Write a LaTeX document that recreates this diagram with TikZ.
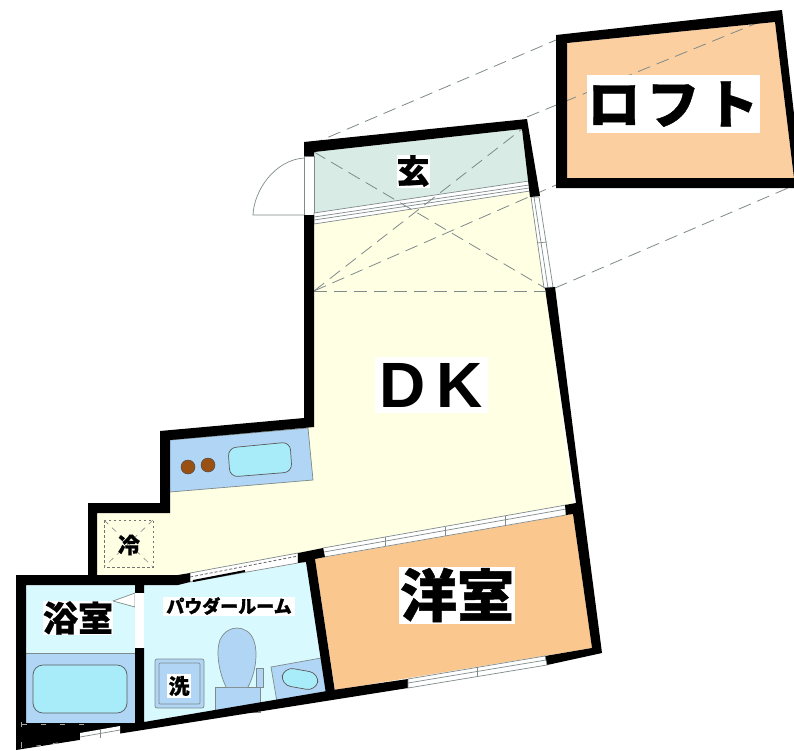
\documentclass[tikz,border=0pt]{standalone}
\usepackage{fontspec}
\setmainfont{Liberation Sans}
\newfontfamily\cjk{Noto Sans CJK JP}[BoldFeatures={FakeBold=0.8}]
\definecolor{wallc}{HTML}{000000}
\definecolor{genkanc}{HTML}{D8EBE4}
\definecolor{dkc}{HTML}{FFFFE4}
\definecolor{woodc}{HTML}{FAC78F}
\definecolor{loftc}{HTML}{FBCF9F}
\definecolor{wetc}{HTML}{D8FAFF}
\definecolor{fixc}{HTML}{B0D5F5}
\definecolor{tubc}{HTML}{A8ECFA}
\definecolor{linec}{HTML}{7F8A8A}
\definecolor{burnc}{HTML}{9A5012}
\tikzset{
  wall/.style={fill=wallc,draw=none},
  room/.style={draw=none},
  fixture/.style={fill=fixc,draw=linec,line width=0.7pt},
  basin/.style={fill=tubc,draw=black!65,line width=0.7pt,rounded corners=8pt},
  fineline/.style={draw=linec,line width=0.7pt},
  band/.style={fill=white,draw=linec,line width=0.7pt},
  hidden/.style={draw=linec,line width=0.8pt,dash pattern=on 13pt off 7pt},
  label/.style={fill=white,inner sep=0pt,text=black,font=\cjk\bfseries,align=center}
}
\begin{document}
\begin{tikzpicture}[x=1pt,y=-1pt]
\useasboundingbox (0,0) rectangle (794,750);
\fill[white] (0,0) rectangle (794,750);
% room fills
\fill[room,fill=dkc] (314,215) -- (530,185) -- (545,288) -- (575,514) -- (323,557) -- (190,582) -- (178,580) -- (97,580) -- (97,513) -- (170,513) -- (170,440) -- (313,427) -- cycle;
\fill[room,fill=genkanc] (314,152) -- (522,129) -- (529,181) -- (314,213) -- cycle;
\fill[room,fill=woodc] (315,559) -- (573,514) -- (592,648) -- (335,690) -- cycle;
\fill[room,fill=wetc] (144,585) -- (178,585) -- (190,582) -- (307,562) -- (326,692) -- (144,722) -- cycle;
\fill[room,fill=wetc] (26,585) rectangle (135,653);
\fill[room,fill=fixc] (26,653) rectangle (135,723);
\draw[fineline] (26,653) -- (135,653);
\fill[room,fill=loftc] (567,43) -- (775,22) -- (794,178) -- (567,178) -- cycle;
% kitchen
\draw[fixture,fill=fixc] (170,440) -- (308,428) -- (313,480) -- (170,492);
\fill[fill=burnc,draw=black!70,line width=0.5pt] (188,467) circle (7);
\fill[fill=burnc,draw=black!70,line width=0.5pt] (208,465) circle (7);
\draw[basin] (228,448) -- (290,442) -- (292,472) -- (230,477) -- cycle;
% fridge
\draw[draw=black!55,line width=0.9pt,dash pattern=on 2.5pt off 2.5pt] (104,520) rectangle (153,567);
\draw[draw=black!45,line width=0.6pt,dash pattern=on 6pt off 5pt] (104,520) -- (153,567) (153,520) -- (104,567);
% bath tub
\draw[basin,rounded corners=10pt] (33,665) rectangle (127,713);
% washer
\draw[fixture,rounded corners=2pt] (155,659) rectangle (204,708);
\draw[fixture,rounded corners=1pt] (159,663) rectangle (200,704);
% toilet
\draw[fixture] (215,687) rectangle (260,712);
\draw[fixture] (256,668) rectangle (263,687);
\draw[fixture] (226,687) .. controls (218,670) and (216,650) .. (220,640) .. controls (224,631) and (231,628) .. (237,628) .. controls (244,628) and (251,632) .. (254,641) .. controls (258,652) and (256,672) .. (248,687);
% vanity
\draw[fixture] (271,667) -- (321,658) -- (333,692) -- (277,702) -- cycle;
\draw[basin,fill=tubc,rotate around={-10:(300,679)},rounded corners=10pt] (282,670) rectangle (318,688);
% doorway, entrance door
\draw[band] (304,156) rectangle (314,215);
\draw[fineline] (304,215) -- (253,215) .. controls (254,190) and (275,160) .. (304,158);
% partition genkan / DK
\draw[band] (314,213) -- (529,181) -- (530,191) -- (314,224) -- cycle;
\draw[fineline] (314,217) -- (529,185);
\draw[fineline] (314,220) -- (529,188);
% window right of DK
\draw[band] (531,197) -- (539,197) -- (553,287) -- (544,288) -- cycle;
\draw[fineline] (534,197) -- (548,288);
\draw[fineline] (537,243) -- (547,242);
% sliding doors DK / wood room
\draw[band] (323,548) -- (566,505) -- (566,515) -- (324,557) -- cycle;
\draw[fineline] (324,552) -- (566,509);
\draw[fineline] (385,537) -- (385,546);
\draw[fineline] (445,527) -- (445,536);
\draw[fineline] (505,516) -- (505,525);
% door DK / powder
\draw[band] (190,573) -- (298,553) -- (298,563) -- (190,582) -- cycle;
\draw[draw=black!60,line width=0.8pt,dash pattern=on 3pt off 2pt] (190,577) -- (298,556);
\draw[wallc,line width=2pt] (193,581) -- (245,571);
% hidden lines
\draw[hidden] (314,291) -- (545,291);
\draw[hidden] (314,291) -- (522,129);
\draw[hidden] (314,152) -- (545,288);
\draw[hidden] (314,291) -- (556,185);
\draw[hidden] (310,145) -- (556,40);
\draw[hidden] (527,117) -- (757,23);
\draw[hidden] (555,288) -- (788,188);
% walls
\fill[wall] (304,142) -- (527,119) -- (540,196) -- (530,197) -- (522,129) -- (314,152) -- (314,156) -- (304,156) -- cycle;
\fill[wall] (304,215) -- (314,215) -- (314,427) -- (170,440) -- (170,513) -- (97,513) -- (97,575) -- (178,575) -- (190,573) -- (190,582) -- (178,585) -- (144,585) -- (144,593) -- (135,593) -- (135,585) -- (26,585) -- (26,723) -- (135,723) -- (135,648) -- (144,648) -- (144,722) -- (333,690) -- (408,679) -- (408,688) -- (16,750) -- (16,575) -- (88,575) -- (88,503) -- (160,503) -- (160,431) -- (304,418) -- cycle;
\fill[wall] (298,553) -- (323,548) -- (325,557) -- (315,559) -- (335,692) -- (326,694) -- (306,562) -- (298,563) -- cycle;
\fill[wall] (545,288) -- (555,287) -- (582,500) -- (602,653) -- (547,665) -- (545,656) -- (592,648) -- (573,514) -- (566,515) -- (565,505) -- (576,503) -- cycle;
\fill[wall,even odd rule] (556,35) -- (782,10) -- (794,114) -- (794,188) -- (556,188) -- cycle (567,43) -- (775,22) -- (794,178) -- (567,178) -- cycle;
% lower windows
\draw[band] (408,679) -- (545,656) -- (547,665) -- (408,688) -- cycle;
\draw[fineline] (408,683) -- (546,660);
\draw[fineline] (477,667) -- (477,676);
\fill[white] (80,733) -- (120,726) -- (120,735) -- (80,742) -- cycle;
\draw[fineline] (80,737) -- (120,730);
\draw[fineline] (100,729) -- (100,738);
% faint marks in the bath wall
\draw[draw=black!35,line width=0.8pt,dash pattern=on 5pt off 14pt] (22,724) -- (88,724);
\draw[draw=black!35,line width=0.8pt,dash pattern=on 5pt off 12pt] (36,746) -- (64,742);
\draw[draw=black!35,line width=0.8pt] (21,742) -- (21,748);
\draw[draw=black!35,line width=0.8pt] (21,722) -- (21,727);
% bath door
\draw[fill=white,draw=linec,line width=0.7pt] (113,601) -- (135,593) -- (135,607) -- cycle;
\fill[white] (135,593) rectangle (144,648);
% labels
\node[label,minimum width=33pt,minimum height=33pt,font=\cjk\bfseries\fontsize{33}{34}\selectfont] (genkan) at (413,171) {玄};
\node[label,minimum width=113pt,minimum height=56pt,font=\bfseries\fontsize{64}{66}\selectfont] (dk) at (431.5,385) {D\hspace{11pt}K};
\node[label,minimum width=116pt,minimum height=57pt,font=\cjk\bfseries\fontsize{57}{58}\selectfont] (wood) at (457,595) {洋室};
\node[label,minimum width=173pt,minimum height=58pt,font=\cjk\bfseries\fontsize{53}{55}\selectfont] (loft) at (673,104) {ロ\hspace{6pt}フ\hspace{6pt}ト};
\node[label,minimum width=70pt,minimum height=33pt,font=\cjk\bfseries\fontsize{35}{36}\selectfont] (bath) at (78,618) {浴室};
\node[label,minimum width=132pt,minimum height=19pt,font=\cjk\bfseries\fontsize{18}{19}\selectfont] (powder) at (229,606) {パウダールーム};
\node[label,minimum width=24pt,minimum height=24pt,font=\cjk\bfseries\fontsize{21}{22}\selectfont] (wash) at (179,686) {洗};
\node[label,fill=none,font=\cjk\bfseries\fontsize{22}{23}\selectfont] (fridge) at (129,545) {冷};
\end{tikzpicture}
\end{document}
